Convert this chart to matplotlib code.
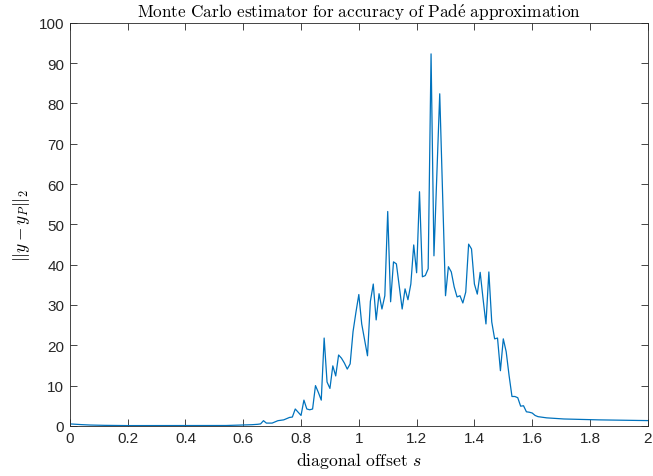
import numpy as np
import matplotlib.pyplot as plt

plt.rcParams['mathtext.fontset'] = 'cm'
plt.rcParams['font.family'] = ['Liberation Sans', 'DejaVu Sans']

# diagonal offset grid, step 0.01
s = np.linspace(0, 2, 201)

# estimated 2-norm error for each offset
err = np.array([
    0.50, 0.45, 0.40, 0.36, 0.32, 0.28, 0.25, 0.22, 0.20, 0.18,
    0.16, 0.15, 0.14, 0.13, 0.12, 0.11, 0.10, 0.10, 0.09, 0.09,
    0.08, 0.08, 0.08, 0.08, 0.07, 0.07, 0.07, 0.07, 0.07, 0.07,
    0.07, 0.07, 0.07, 0.07, 0.07, 0.07, 0.07, 0.07, 0.07, 0.07,
    0.07, 0.07, 0.07, 0.07, 0.07, 0.08, 0.08, 0.08, 0.08, 0.08,
    0.08, 0.08, 0.09, 0.10, 0.10, 0.12, 0.13, 0.15, 0.17, 0.20,
    0.22, 0.25, 0.28, 0.30, 0.35, 0.40, 0.50, 1.30, 0.70, 0.70,
    0.70, 1.00, 1.30, 1.40, 1.50, 1.80, 2.10, 2.20, 4.20, 3.40,
    2.60, 6.40, 4.20, 4.00, 4.20, 10.0, 8.30, 6.40, 21.8, 10.9,
    9.30, 14.9, 12.4, 17.6, 16.8, 15.6, 14.1, 15.4, 23.4, 28.2,
    32.6, 25.3, 21.4, 17.4, 30.9, 35.2, 26.3, 32.8, 29.0, 32.3,
    53.2, 30.8, 40.7, 40.2, 34.5, 29.0, 34.0, 31.3, 35.2, 44.9,
    38.0, 58.1, 37.0, 37.3, 39.0, 92.3, 42.2, 62.3, 82.4, 57.3,
    32.3, 39.5, 38.2, 34.5, 32.0, 32.3, 30.5, 33.2, 45.1, 43.9,
    35.2, 32.7, 38.1, 31.5, 25.3, 38.2, 25.8, 21.6, 21.8, 13.7,
    21.6, 18.4, 12.5, 7.30, 7.30, 7.00, 4.90, 5.00, 3.50, 3.40,
    3.20, 2.60, 2.30, 2.20, 2.10, 2.00, 1.95, 1.90, 1.85, 1.80,
    1.75, 1.72, 1.70, 1.68, 1.66, 1.64, 1.62, 1.60, 1.58, 1.56,
    1.55, 1.54, 1.52, 1.50, 1.49, 1.48, 1.46, 1.45, 1.44, 1.43,
    1.42, 1.41, 1.40, 1.39, 1.38, 1.37, 1.36, 1.35, 1.34, 1.33,
    1.32,
])

xticks = np.arange(0, 2.01, 0.2)
xticklabels = ['0', '0.2', '0.4', '0.6', '0.8', '1', '1.2', '1.4', '1.6', '1.8', '2']
yticks = np.arange(0, 101, 10)

fig = plt.figure(figsize=(6.53, 4.77), dpi=100)
ax = fig.add_axes([0.107, 0.105, 0.885, 0.845])

ax.plot(s, err, color='#0072BD', linewidth=0.9)

ax.set_xlim(0, 2)
ax.set_ylim(0, 100)
ax.set_xticks(xticks)
ax.set_xticklabels(xticklabels)
ax.set_yticks(yticks)

ax.tick_params(direction='in', top=True, right=True, length=5, width=0.6,
               labelsize=11, colors='#262626', pad=4)
for sp in ax.spines.values():
    sp.set_color('#262626')
    sp.set_linewidth(0.6)

ax.set_title(r'$\mathrm{Monte\ Carlo\ estimator\ for\ accuracy\ of\ Pad\acute{e}\ approximation}$',
             fontsize=12.4, pad=4)
ax.set_xlabel(r'$\mathrm{diagonal\ offset}\ s$', fontsize=12.7, labelpad=3)
ax.set_ylabel(r'$||y - y_P||_2$', fontsize=12.5, labelpad=5)

fig.savefig('out.png', dpi=100)
